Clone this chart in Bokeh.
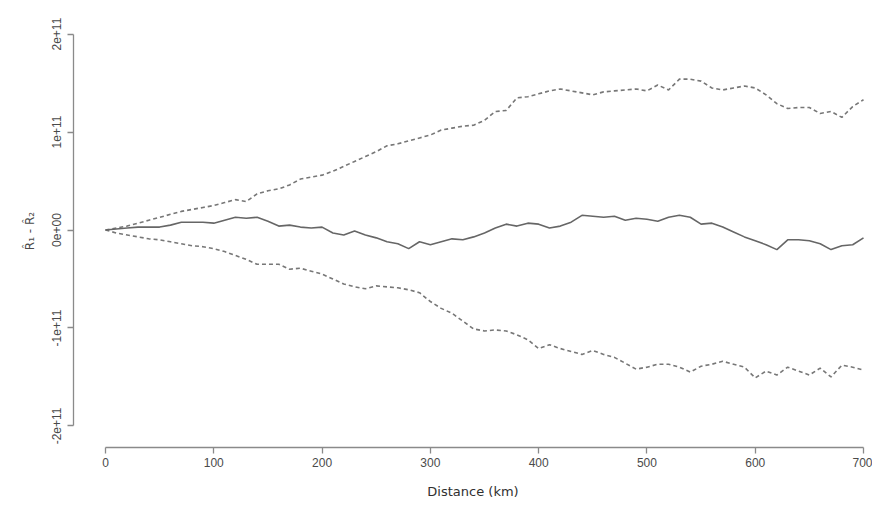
import numpy as np
from bokeh.plotting import figure
from bokeh.models import Range1d, FixedTicker
from bokeh.embed import file_html
from bokeh.resources import INLINE

# Distance (km)
distance = list(range(0, 701, 10))

# Values in units of 1e11
upper = [0.00, 0.02, 0.04, 0.07, 0.10, 0.13, 0.16, 0.19, 0.21, 0.23,
         0.25, 0.28, 0.31, 0.29, 0.37, 0.40, 0.42, 0.46, 0.52, 0.54,
         0.56, 0.60, 0.65, 0.70, 0.75, 0.80, 0.86, 0.88, 0.91, 0.94,
         0.97, 1.02, 1.04, 1.06, 1.07, 1.12, 1.21, 1.22, 1.35, 1.36,
         1.39, 1.42, 1.44, 1.42, 1.40, 1.38, 1.41, 1.42, 1.43, 1.44,
         1.42, 1.48, 1.43, 1.54, 1.54, 1.52, 1.45, 1.43, 1.45, 1.47,
         1.45, 1.38, 1.29, 1.24, 1.25, 1.25, 1.19, 1.21, 1.15, 1.26,
         1.33]

estimate = [0.00, 0.01, 0.02, 0.03, 0.03, 0.03, 0.05, 0.08, 0.08, 0.08,
            0.07, 0.10, 0.13, 0.12, 0.13, 0.09, 0.04, 0.05, 0.03, 0.02,
            0.03, -0.03, -0.05, -0.01, -0.05, -0.08, -0.12, -0.14, -0.19, -0.12,
            -0.15, -0.12, -0.09, -0.10, -0.07, -0.03, 0.02, 0.06, 0.04, 0.07,
            0.06, 0.02, 0.04, 0.08, 0.15, 0.14, 0.13, 0.14, 0.10, 0.12,
            0.11, 0.09, 0.13, 0.15, 0.13, 0.06, 0.07, 0.03, -0.02, -0.07,
            -0.11, -0.15, -0.20, -0.10, -0.10, -0.11, -0.14, -0.20, -0.16, -0.15,
            -0.08]

lower = [0.00, -0.03, -0.05, -0.07, -0.09, -0.10, -0.12, -0.14, -0.16, -0.17,
         -0.19, -0.22, -0.26, -0.30, -0.35, -0.35, -0.35, -0.40, -0.39, -0.42,
         -0.45, -0.50, -0.55, -0.58, -0.60, -0.57, -0.58, -0.59, -0.61, -0.64,
         -0.73, -0.80, -0.85, -0.93, -1.01, -1.03, -1.02, -1.03, -1.07, -1.12,
         -1.21, -1.17, -1.21, -1.24, -1.27, -1.23, -1.27, -1.30, -1.36, -1.42,
         -1.40, -1.37, -1.37, -1.40, -1.45, -1.39, -1.37, -1.34, -1.37, -1.40,
         -1.51, -1.44, -1.48, -1.40, -1.44, -1.48, -1.41, -1.50, -1.38, -1.40,
         -1.43]

x_ticks = [0, 100, 200, 300, 400, 500, 600, 700]
y_ticks = [-2e11, -1e11, 0, 1e11, 2e11]
y_tick_labels = ["-2e+11", "-1e+11", "0e+00", "1e+11", "2e+11"]

SCALE = 1e11
x = np.array(distance, dtype=float)

p = figure(width=872, height=501, output_backend="svg", toolbar_location=None,
           x_range=Range1d(-29.55, 708.3), y_range=Range1d(-2.22e11, 2.2e11),
           min_border_left=73, min_border_right=0, min_border_top=14,
           min_border_bottom=49)
p.outline_line_color = None
p.grid.visible = False
p.background_fill_color = "white"
p.border_fill_color = "white"

line_col = "#666666"
dash_col = "#777777"
p.line(x, np.array(upper) * SCALE, line_color=dash_col, line_width=1.6, line_dash="4 3")
p.line(x, np.array(lower) * SCALE, line_color=dash_col, line_width=1.6, line_dash="4 3")
p.line(x, np.array(estimate) * SCALE, line_color=line_col, line_width=1.6)

for ax in (p.xaxis[0], p.yaxis[0]):
    ax.axis_line_color = "#8a8a8a"
    ax.axis_line_width = 1.3
    ax.major_tick_line_color = "#8a8a8a"
    ax.major_tick_line_width = 1.3
    ax.major_tick_out = 6
    ax.major_tick_in = 0
    ax.minor_tick_out = 0
    ax.minor_tick_in = 0
    ax.major_label_text_font = "Liberation Sans"
    ax.major_label_text_font_size = "12px"
    ax.major_label_text_color = "#4a4a4a"

p.xaxis.ticker = FixedTicker(ticks=x_ticks)
p.xaxis.bounds = (0, 700)
p.xaxis.major_label_standoff = 4
p.xaxis.axis_label = "Distance (km)"
p.xaxis.axis_label_text_font = "DejaVu Sans"
p.xaxis.axis_label_text_font_size = "13px"
p.xaxis.axis_label_text_font_style = "normal"
p.xaxis.axis_label_text_color = "#303030"
p.xaxis.axis_label_standoff = 14

p.yaxis.ticker = FixedTicker(ticks=y_ticks)
p.yaxis.bounds = (-2e11, 2e11)
p.yaxis.major_label_overrides = {t: s for t, s in zip(y_ticks, y_tick_labels)}
p.yaxis.major_label_orientation = "vertical"
p.yaxis.major_label_standoff = 6
p.yaxis.axis_label = "R\u0302\u2081 - R\u0302\u2082"
p.yaxis.axis_label_text_font = "DejaVu Sans"
p.yaxis.axis_label_text_font_size = "12px"
p.yaxis.axis_label_text_font_style = "normal"
p.yaxis.axis_label_text_color = "#4a4a4a"
p.yaxis.axis_label_standoff = 13

open("out.html", "w").write(file_html(p, INLINE))
